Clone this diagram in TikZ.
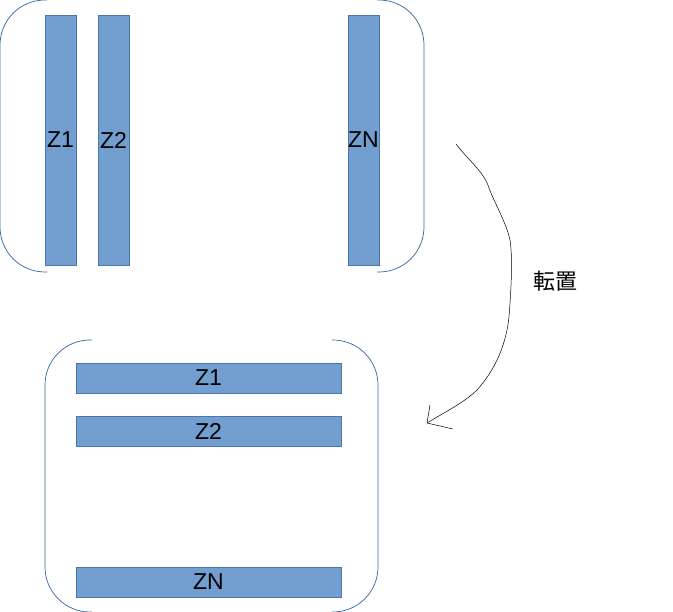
\documentclass[tikz,border=0pt]{standalone}
\usepackage{fontspec}
\setmainfont{Liberation Sans}
\newfontfamily\jpfont{Noto Sans CJK JP}
\usepackage{xcolor}
\definecolor{barfill}{HTML}{729FCF}
\definecolor{barline}{HTML}{4A76B0}
\definecolor{brkline}{HTML}{3465A4}

\begin{document}
\begin{tikzpicture}[x=1pt, y=-1pt, thin,
    zbar/.style = {draw=barline, fill=barfill, inner sep=0pt, font=\fontsize{23}{27}\selectfont},
    vbar/.style = {zbar, minimum width=31pt, minimum height=250pt},
    hbar/.style = {zbar, minimum width=265pt, minimum height=30pt},
    brk/.style  = {draw=brkline, line width=0.7pt, rounded corners=45pt}]
    \useasboundingbox (0,0) rectangle (673,612);

    % columns
    \node[vbar] (z1) at (60.5,140) {Z1};
    \node[vbar] (z2) at (113.5,140) {Z2};
    \node[vbar] (zn) at (363.5,140) {ZN};
    \draw[brk] (47,0) -- (0,0) -- (0,272) -- (47,272);
    \draw[brk] (377,0) -- (424,0) -- (424,272) -- (377,272);

    % rows
    \node[hbar] (r1) at (208.5,378) {Z1};
    \node[hbar] (r2) at (208.5,431) {Z2};
    \node[hbar] (rn) at (208.5,582) {ZN};
    \draw[brk] (92,340) -- (45,340) -- (45,612) -- (92,612);
    \draw[brk] (332,340) -- (378,340) -- (378,612) -- (332,612);

    % transpose arrow
    \coordinate (arrS) at (456,144);
    \coordinate (arrE) at (427,423);
    \draw[line width=0.5pt] (arrS) .. controls (470,162) and (484,172) .. (489,188)
        .. controls (494,202) and (506,222) .. (510,240)
        .. controls (513,260) and (511,290) .. (509,317)
        .. controls (506,345) and (495,370) .. (477,390)
        .. controls (465,402) and (445,412) .. (arrE);
    \draw[line width=0.5pt] (arrE) -- ++(3,-18);
    \draw[line width=0.5pt] (arrE) -- ++(26,6);
    \node[font=\jpfont\fontsize{22}{26}\selectfont] (lbl) at (555,281) {転置};
\end{tikzpicture}
\end{document}
